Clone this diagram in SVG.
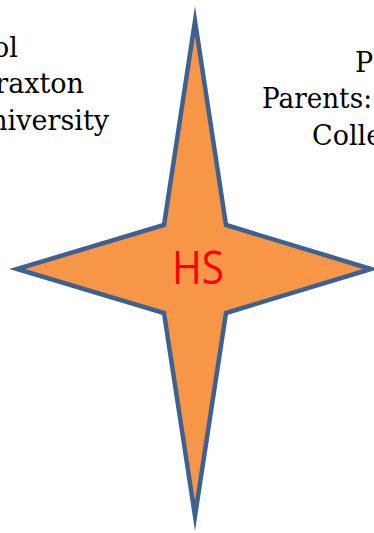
<svg xmlns="http://www.w3.org/2000/svg" width="374" height="533" viewBox="0 0 374 533">
<style>
.lbl{font-family:"DejaVu Serif","Liberation Serif",serif;font-size:27px;fill:#000}
.star{fill:#F79646;stroke:#3D6292;stroke-width:4.5;stroke-linejoin:miter;stroke-miterlimit:20}
.hs{font-family:"Open Sans","Noto Sans",sans-serif;font-size:46px;fill:#FF0000}
</style>
<rect width="374" height="533" fill="#fff"/>
<g id="connectors"></g>
<g id="left-label">
<text class="lbl" x="18" y="57" text-anchor="end">ol</text>
<text class="lbl" x="84" y="93" text-anchor="end">raxton</text>
<text class="lbl" x="109" y="130" text-anchor="end">niversity</text>
</g>
<g id="right-label">
<text class="lbl" x="355" y="72">P</text>
<text class="lbl" x="262" y="108" textLength="110" lengthAdjust="spacingAndGlyphs">Parents:</text>
<text class="lbl" x="312" y="145">Colle</text>
</g>
<g id="hs-star">
<path class="star" d="M195,21 L226,225 L371,269 L226,313 L195,516 L164,313 L17,269 L164,225 Z"/>
<text class="hs" x="198" y="284" text-anchor="middle" textLength="52" lengthAdjust="spacingAndGlyphs">HS</text>
</g>
</svg>
